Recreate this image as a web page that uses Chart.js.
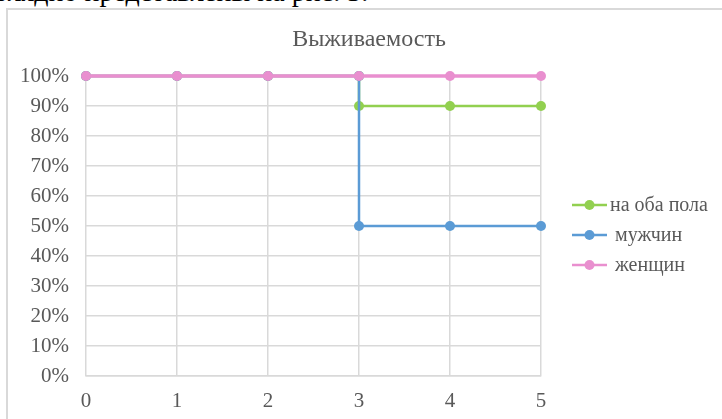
<!DOCTYPE html>
<html lang="ru">
<head>
<meta charset="utf-8">
<title>Выживаемость</title>
<script src="https://cdn.jsdelivr.net/npm/chart.js@4/dist/chart.umd.min.js"></script>
<style>
  body { margin: 0; background: #fff; overflow: hidden; }
  #wrap { position: relative; width: 722px; height: 419px; overflow: hidden; }
  #topText { position: absolute; left: -30px; top: -22px; font: 28px "Liberation Serif", serif; line-height: 1; color: #000; white-space: nowrap; }
  #frame { position: absolute; left: 6px; top: 8px; width: 800px; height: 500px; border: 2px solid #d9d9d9; }
  #chart { position: absolute; left: 0; top: 0; }
</style>
</head>
<body>
<div id="wrap">
  <div id="topText">наглядно представлены на рис. 3.</div>
  <div id="frame"></div>
  <canvas id="chart" width="722" height="419"></canvas>
</div>
<script>
// данные графика
const chartTitle = 'Выживаемость';
const seriesNames = ['на оба пола', 'мужчин', 'женщин'];
const seriesColors = ['#92d050', '#5b9bd5', '#e98fcf'];
const xTicks = [0, 1, 2, 3, 4, 5];
const bothX = [0, 1, 2, 3, 3, 4, 5];
const bothY = [100, 100, 100, 100, 90, 90, 90];
const menX = [0, 1, 2, 3, 3, 4, 5];
const menY = [100, 100, 100, 100, 50, 50, 50];
const womenX = [0, 1, 2, 3, 4, 5];
const womenY = [100, 100, 100, 100, 100, 100];

const textColor = '#595959';
const gridColor = '#d9d9d9';
const serif = '"Liberation Serif", "Times New Roman", serif';

function toPoints(xs, ys) {
  return xs.map((x, i) => ({ x: x, y: ys[i] }));
}

function makeDataset(idx, xs, ys, order, width) {
  return {
    label: seriesNames[idx],
    data: toPoints(xs, ys),
    borderColor: seriesColors[idx],
    backgroundColor: seriesColors[idx],
    borderWidth: width,
    pointRadius: 5,
    pointHoverRadius: 5,
    pointBorderWidth: 0,
    showLine: true,
    clip: false,
    order: order
  };
}

// заголовок по центру рамки и легенда справа
const sideLegend = {
  id: 'sideLegend',
  afterDraw(chart) {
    const ctx = chart.ctx;
    ctx.save();
    ctx.fillStyle = textColor;
    ctx.font = '24px ' + serif;
    ctx.textAlign = 'center';
    ctx.textBaseline = 'middle';
    ctx.fillText(chartTitle, 369, 40);

    chart.data.datasets.forEach((ds, i) => {
      const y = 205 + i * 30;
      ctx.strokeStyle = ds.borderColor;
      ctx.lineWidth = 2.5;
      ctx.beginPath();
      ctx.moveTo(572, y);
      ctx.lineTo(607, y);
      ctx.stroke();
      ctx.fillStyle = ds.borderColor;
      ctx.beginPath();
      ctx.arc(589.5, y, 5, 0, Math.PI * 2);
      ctx.fill();
      ctx.fillStyle = textColor;
      ctx.font = '20px ' + serif;
      ctx.textAlign = 'left';
      ctx.textBaseline = 'middle';
      ctx.fillText(ds.label, i === 0 ? 610 : 615, y + 1);
    });
    ctx.restore();
  }
};

new Chart(document.getElementById('chart'), {
  type: 'scatter',
  data: {
    datasets: [
      makeDataset(0, bothX, bothY, 2, 2.5),
      makeDataset(1, menX, menY, 1, 2.5),
      makeDataset(2, womenX, womenY, 0, 3.5)
    ]
  },
  options: {
    responsive: false,
    animation: false,
    events: [],
    layout: { padding: { left: 0, right: 181, top: 76, bottom: 0 } },
    plugins: {
      legend: { display: false },
      tooltip: { enabled: false },
      title: { display: false }
    },
    scales: {
      x: {
        type: 'linear',
        min: xTicks[0],
        max: xTicks[xTicks.length - 1],
        afterBuildTicks: axis => { axis.ticks = xTicks.map(v => ({ value: v })); },
        grid: { color: gridColor, lineWidth: 1.5, drawTicks: false },
        border: { color: gridColor, width: 1.5 },
        ticks: { color: textColor, font: { family: serif, size: 21 }, padding: 13 },
        afterFit: axis => { axis.height = 43; }
      },
      y: {
        min: 0,
        max: 100,
        ticks: {
          stepSize: 10,
          color: textColor,
          font: { family: serif, size: 21 },
          padding: 17,
          callback: v => v + '%'
        },
        grid: { color: gridColor, lineWidth: 1.5, drawTicks: false },
        border: { display: false },
        afterFit: axis => { axis.width = 86; }
      }
    }
  },
  plugins: [sideLegend]
});
</script>
</body>
</html>
